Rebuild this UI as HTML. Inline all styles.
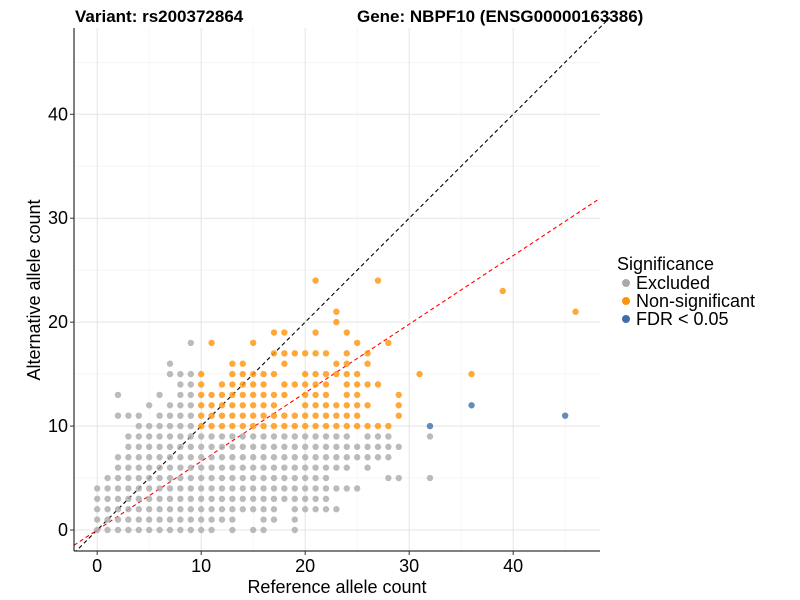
<!DOCTYPE html>
<html><head><meta charset="utf-8"><style>
html,body{margin:0;padding:0;background:#fff;}
svg{display:block;font-family:"Liberation Sans",sans-serif;}
</style></head><body>
<svg id="chart" width="800" height="600" xmlns="http://www.w3.org/2000/svg">
<text x="75" y="22" font-size="17" font-weight="bold">Variant: rs200372864</text>
<text x="357" y="22" font-size="17" font-weight="bold">Gene: NBPF10 (ENSG00000163386)</text>
<g id="grid"></g>
<g id="lines"></g>
<g id="points"></g>
<g id="axes"></g>
<text x="337" y="593" font-size="18" text-anchor="middle">Reference allele count</text>
<text transform="translate(40,290) rotate(-90)" font-size="18" text-anchor="middle">Alternative allele count</text>
<g>
<text x="617" y="270" font-size="18">Significance</text>
<g><circle cx="626" cy="283" r="4" fill="#aaaaaa"/><text x="636" y="289" font-size="18">Excluded</text></g>
<g><circle cx="626" cy="301" r="4" fill="#ff9409"/><text x="636" y="307" font-size="18">Non-significant</text></g>
<g><circle cx="626" cy="319" r="4" fill="#3e6fa8"/><text x="636" y="325" font-size="18">FDR &lt; 0.05</text></g>
</g>
</svg>
<script>
const xTicks = [0, 10, 20, 30, 40];
const yTicks = [0, 10, 20, 30, 40];
const minorTicks = [5, 15, 25, 35, 45];
// rows of points: y value -> x values (ranges "a-b")
const excludedRows = [
 [0,"0-11,13,15,16,19"],[1,"0-13,16,17,19"],[2,"0-17,19-23"],[3,"0-22"],[4,"0-25"],
 [5,"1-22,28,29,32"],[6,"2-24,26"],[7,"2-28"],[8,"3-29"],[9,"3-24,26,27,28,32"],
 [10,"4-9"],[11,"2,3,4,6,7,8,9"],[12,"5,7,8,9"],[13,"2,6,8,9"],[14,"8,9"],[15,"7,8,9"],[16,"7"],[18,"9"]
];
const nonsigRows = [
 [10,"10-28"],[11,"10-25,29"],[12,"10-17,20-26,29"],[13,"10-18,20-22,24,25,29"],
 [14,"10,12-16,18-22,24-27"],[15,"10,13-17,20-25,31,36"],[16,"13,14,18,23,24,26"],
 [17,"17-22,24,26"],[18,"11,15,25,28"],[19,"17,18,21,24"],[20,"23"],[21,"23,46"],[23,"39"],[24,"21,27"]
];
const fdrX = [32, 36, 45];
const fdrY = [10, 12, 11];
const identitySlope = 1;
const fitSlope = 0.66;

const X0 = 74, X1 = 600, Y0 = 551, Y1 = 28;
const xMin = -2.23, xMax = 48.35, yMin = -2.02, yMax = 48.3;
const sx = v => X0 + (v - xMin) / (xMax - xMin) * (X1 - X0);
const sy = v => Y0 - (v - yMin) / (yMax - yMin) * (Y0 - Y1);
const NS = "http://www.w3.org/2000/svg";
function mk(tag, attrs, parent) {
  const e = document.createElementNS(NS, tag);
  for (const k in attrs) e.setAttribute(k, attrs[k]);
  parent.appendChild(e); return e;
}
function expand(s) {
  const out = [];
  s.split(",").forEach(p => {
    if (p.includes("-")) { const [a, b] = p.split("-").map(Number); for (let i = a; i <= b; i++) out.push(i); }
    else out.push(Number(p));
  });
  return out;
}
const grid = document.getElementById("grid");
minorTicks.forEach(t => {
  const a = mk("line", {x1: sx(t), x2: sx(t), y1: Y1, y2: Y0, stroke: "#f0f0f0", "stroke-width": 0.6}, grid);
  
  
  const b = mk("line", {x1: X0, x2: X1, y1: sy(t), y2: sy(t), stroke: "#f0f0f0", "stroke-width": 0.6}, grid);
  
  
});
xTicks.forEach(t => {
  const a = mk("line", {x1: sx(t), x2: sx(t), y1: Y1, y2: Y0, stroke: "#e5e5e5", "stroke-width": 1}, grid);
  
  
});
yTicks.forEach(t => {
  const b = mk("line", {x1: X0, x2: X1, y1: sy(t), y2: sy(t), stroke: "#e5e5e5", "stroke-width": 1}, grid);
  
  
});
const pts = document.getElementById("points");
function dot(x, y, fill, name) {
  const c = mk("circle", {cx: sx(x), cy: sy(y), r: 3.2, fill: fill, "fill-opacity": 0.8}, pts);
  
  
}
excludedRows.forEach(([y, s]) => expand(s).forEach(x => dot(x, y, "#aaaaaa", "excluded-point")));
nonsigRows.forEach(([y, s]) => expand(s).forEach(x => dot(x, y, "#ff9409", "non-significant-point")));
fdrX.forEach((x, i) => dot(x, fdrY[i], "#3e6fa8", "fdr-point"));

const lines = document.getElementById("lines");
const clip = mk("clipPath", {id: "pc"}, lines);
mk("rect", {x: X0, y: Y1 - 30, width: X1 - X0 + 10, height: Y0 - Y1 + 30}, clip);
const l1 = mk("line", {x1: sx(xMin), y1: sy(xMin * identitySlope), x2: sx(xMax + 2), y2: sy((xMax + 2) * identitySlope), stroke: "#000", "stroke-width": 1.1, "stroke-dasharray": "4,3", "clip-path": "url(#pc)"}, lines);


const l2 = mk("line", {x1: sx(xMin), y1: sy(xMin * fitSlope), x2: sx(xMax), y2: sy(xMax * fitSlope), stroke: "#ff0000", "stroke-width": 1.1, "stroke-dasharray": "4,3", "clip-path": "url(#pc)"}, lines);



const axes = document.getElementById("axes");
const ax = mk("line", {x1: X0, x2: X1, y1: Y0, y2: Y0, stroke: "#000", "stroke-width": 1}, axes);


const ay = mk("line", {x1: X0, x2: X0, y1: Y1, y2: Y0, stroke: "#000", "stroke-width": 1}, axes);


xTicks.forEach(t => {
  mk("line", {x1: sx(t), x2: sx(t), y1: Y0, y2: Y0 + 4, stroke: "#333"}, axes);
  const tx = mk("text", {x: sx(t), y: Y0 + 21, "font-size": 18, "text-anchor": "middle"}, axes);
  tx.textContent = t;
  
  
});
yTicks.forEach(t => {
  mk("line", {x1: X0 - 4, x2: X0, y1: sy(t), y2: sy(t), stroke: "#333"}, axes);
  const tx = mk("text", {x: X0 - 6, y: sy(t) + 6, "font-size": 18, "text-anchor": "end"}, axes);
  tx.textContent = t;
  
  
});
</script>
</body></html>
